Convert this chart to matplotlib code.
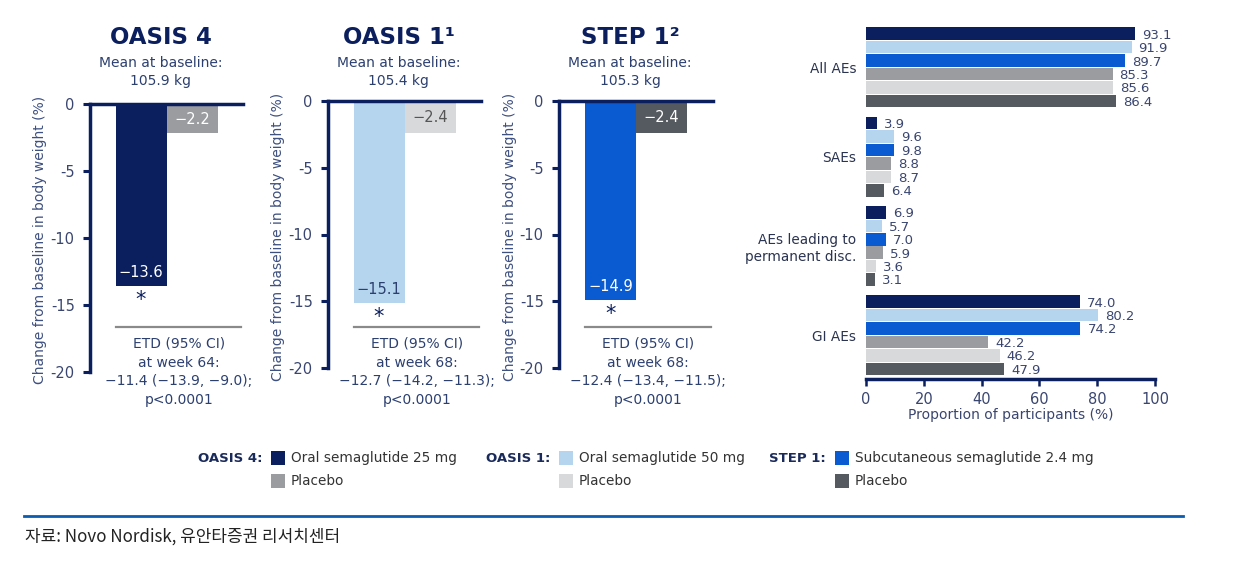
import matplotlib
matplotlib.use('Agg')
import matplotlib.pyplot as plt
from matplotlib.patches import Rectangle
from matplotlib.lines import Line2D
from matplotlib.ticker import FuncFormatter

# ---- data ----
trials = ['OASIS 4', 'OASIS 1\u00b9', 'STEP 1\u00b2']
baseline = ['105.9 kg', '105.4 kg', '105.3 kg']
active_change = [-13.6, -15.1, -14.9]
placebo_change = [-2.2, -2.4, -2.4]
etd_week = [64, 68, 68]
etd_text = ['\u221211.4 (\u221213.9, \u22129.0);',
            '\u221212.7 (\u221214.2, \u221211.3);',
            '\u221212.4 (\u221213.4, \u221211.5);']

ae_categories = ['All AEs', 'SAEs', 'AEs leading to\npermanent disc.', 'GI AEs']
ae_sema25 = [93.1, 3.9, 6.9, 74.0]
ae_sema50 = [91.9, 9.6, 5.7, 80.2]
ae_sc24 = [89.7, 9.8, 7.0, 74.2]
ae_pbo_oasis4 = [85.3, 8.8, 5.9, 42.2]
ae_pbo_oasis1 = [85.6, 8.7, 3.6, 46.2]
ae_pbo_step1 = [86.4, 6.4, 3.1, 47.9]

# ---- styles ----
NAVY = '#0b1f5e'
GREY = '#9a9ca0'
LBLUE = '#b5d5ef'
LGREY = '#d8d9db'
BLUE = '#0a5ad2'
DGREY = '#555a61'
TXT = '#2c4070'

active_col = [NAVY, LBLUE, BLUE]
placebo_col = [GREY, LGREY, DGREY]
active_lab_col = ['white', TXT, 'white']
placebo_lab_col = ['white', '#555555', 'white']

W, H = 1248, 570
fig = plt.figure(figsize=(W / 100, H / 100), dpi=100)
plt.rcParams['font.family'] = ['DejaVu Sans']


def box(x0, y0, x1, y1):
    # pixel box (top-left origin) -> figure fraction
    return [x0 / W, 1 - y1 / H, (x1 - x0) / W, (y1 - y0) / H]


def fx(x):
    return x / W


def fy(y):
    return 1 - y / H


# ---- weight change panels ----
panels = [(90, 243, 104, 372), (328, 481, 101, 368), (559, 713, 101, 368)]
ylab_x = [40, 278, 510]
for i, (x0, x1, y0, y1) in enumerate(panels):
    ax = fig.add_axes(box(x0, y0, x1, y1))
    ax.bar([0, 1], [active_change[i], placebo_change[i]], width=1.0,
           color=[active_col[i], placebo_col[i]])
    ax.set_xlim(-1.0, 2.0)
    ax.set_ylim(-20, 0)
    ax.set_xticks([])
    ax.set_yticks([0, -5, -10, -15, -20])
    ax.yaxis.set_major_formatter(FuncFormatter(lambda v, p: '%d' % v))
    ax.tick_params(axis='y', direction='out', length=5, width=2.2, color=NAVY,
                   labelsize=10.5, labelcolor='#3a4670', pad=6)
    for s in ['right', 'bottom']:
        ax.spines[s].set_visible(False)
    ax.spines['left'].set_color(NAVY)
    ax.spines['left'].set_linewidth(2.5)
    ax.spines['top'].set_color(NAVY)
    ax.spines['top'].set_linewidth(2.5)
    ax.patch.set_alpha(0)

    ax.text(0, active_change[i] + 0.45, '\u2212%.1f' % abs(active_change[i]),
            ha='center', va='bottom', fontsize=10.5, color=active_lab_col[i])
    ax.text(1, placebo_change[i] / 2 - 0.05, '\u2212%.1f' % abs(placebo_change[i]),
            ha='center', va='center', fontsize=10.5, color=placebo_lab_col[i])
    ax.annotate('*', (0, active_change[i]), xytext=(0, -3), textcoords='offset points',
                ha='center', va='top', fontsize=15, color=NAVY)

    cx = (x0 + x1) / 2
    fig.text(fx(cx - 6), fy(37), trials[i], ha='center', va='center',
             fontsize=16.5, fontweight='bold', color=NAVY)
    fig.text(fx(cx - 6), fy(72), 'Mean at baseline:\n' + baseline[i], ha='center',
             va='center', fontsize=10, color=TXT, linespacing=1.45)
    fig.text(fx(ylab_x[i]), fy((y0 + y1) / 2 + 2),
             'Change from baseline in body weight (%)', rotation=90,
             ha='center', va='center', fontsize=10, color='#3e5080')
    fig.add_artist(Line2D([fx(x0 + 26), fx(x1 - 2)], [fy(327), fy(327)],
                          color='#8a8a8a', lw=1.6))
    etd = 'ETD (95% CI)\nat week ' + str(etd_week[i]) + ':\n' + etd_text[i] + '\np<0.0001'
    fig.text(fx(x0 + 89), fy(372), etd,
             ha='center', va='center', fontsize=10, color=TXT, linespacing=1.45)

# ---- adverse events panel ----
ax = fig.add_axes(box(866, 27, 1155, 379))
series = [ae_sema25, ae_sema50, ae_sc24, ae_pbo_oasis4, ae_pbo_oasis1, ae_pbo_step1]
colors = [NAVY, LBLUE, BLUE, GREY, LGREY, DGREY]
gpitch = 6.64
for r, (vals, c) in enumerate(zip(series, colors)):
    ys = [g * gpitch + r + 0.5 for g in range(len(ae_categories))]
    ax.barh(ys, vals, height=0.93, color=c)
    for yv, v in zip(ys, vals):
        ax.annotate('%.1f' % v, (v, yv), xytext=(5, -1), textcoords='offset points',
                    ha='left', va='center', fontsize=9.5, color='#3a4670')
ax.set_ylim(26.17, 0)
ax.set_xlim(0, 100)
ax.set_yticks([g * gpitch + 3 for g in range(len(ae_categories))])
ax.set_yticklabels(ae_categories, multialignment='right')
ax.tick_params(axis='y', length=0, pad=7, labelsize=9.8, labelcolor='#2a3350')
ax.set_xticks([0, 20, 40, 60, 80, 100])
ax.tick_params(axis='x', direction='out', length=5, width=1.8, color=NAVY,
               labelsize=10.5, labelcolor='#3a4670', pad=4)
ax.set_xlabel('Proportion of participants (%)', fontsize=10, color='#3a4670', labelpad=1)
for s in ['left', 'right', 'top']:
    ax.spines[s].set_visible(False)
ax.spines['bottom'].set_color(NAVY)
ax.spines['bottom'].set_linewidth(2.5)

# ---- legend ----
legend_groups = [('OASIS 4:', 262, ['Oral semaglutide 25 mg', 'Placebo'], [NAVY, GREY]),
                 ('OASIS 1:', 550, ['Oral semaglutide 50 mg', 'Placebo'], [LBLUE, LGREY]),
                 ('STEP 1:', 826, ['Subcutaneous semaglutide 2.4 mg', 'Placebo'], [BLUE, DGREY])]
for name, xr, labels, cols in legend_groups:
    fig.text(fx(xr), fy(458), name, ha='right', va='center', fontsize=9.5,
             fontweight='bold', color='#1a2a5a')
    for k, (lab, c) in enumerate(zip(labels, cols)):
        yc = 458 + 23 * k
        fig.add_artist(Rectangle((fx(xr + 9), fy(yc + 7)), 14 / W, 14 / H,
                                 transform=fig.transFigure, color=c, lw=0))
        fig.text(fx(xr + 29), fy(yc), lab, ha='left', va='center', fontsize=9.8,
                 color='#333333')

# ---- footer ----
fig.add_artist(Line2D([fx(24), fx(1183)], [fy(516), fy(516)], color='#0b5cb0', lw=2))
fig.text(fx(25), fy(537), '자료: Novo Nordisk, 유안타증권 리서치센터', ha='left', va='center',
         fontsize=12.2, color='#222222', family=['Noto Sans CJK KR', 'DejaVu Sans'])

fig.savefig('out.png', dpi=100)
